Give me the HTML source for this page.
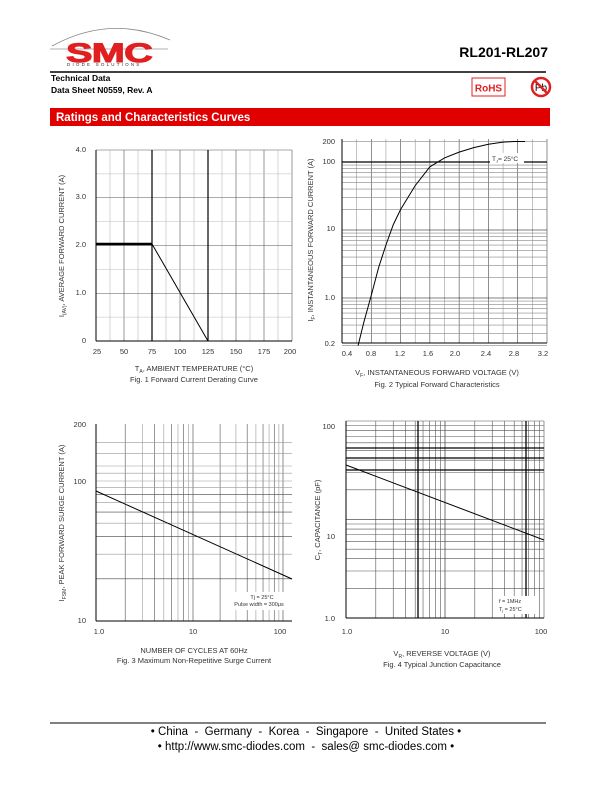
<!DOCTYPE html>
<html><head><meta charset="utf-8"><style>
body{margin:0;background:#fff;}
svg{display:block;font-family:"Liberation Sans",Arial,sans-serif;}
</style></head><body>
<svg id="s" width="612" height="792" viewBox="0 0 612 792" xmlns="http://www.w3.org/2000/svg">
<rect width="612" height="792" fill="#fff"/>
<!-- logo -->
<path d="M52 46 Q110 14 170 40" fill="none" stroke="#888" stroke-width="0.8"/>
<line x1="50" y1="49" x2="168" y2="49" stroke="#999" stroke-width="0.8"/>
<text x="66" y="62" font-size="27" font-weight="bold" fill="#e02020" stroke="#e02020" stroke-width="1" font-family="Liberation Sans,sans-serif" letter-spacing="-0.5" textLength="86" lengthAdjust="spacingAndGlyphs">SMC</text>
<text x="67" y="66" font-size="4.5" fill="#333" letter-spacing="2.2">DIODE SOLUTIONS</text>
<text x="548" y="57" font-size="14" font-weight="bold" text-anchor="end">RL201-RL207</text>
<line x1="50" y1="72" x2="546" y2="72" stroke="#000" stroke-width="1.5"/>
<text x="51" y="81" font-size="8.5" font-weight="bold">Technical Data</text>
<text x="51" y="93" font-size="8.5" font-weight="bold">Data Sheet N0559, Rev. A</text>
<rect x="472" y="78" width="33" height="18" fill="none" stroke="#e02020" stroke-width="1"/>
<text x="488.5" y="91.5" font-size="10" font-weight="bold" fill="#e02020" text-anchor="middle">RoHS</text>
<circle cx="541" cy="87" r="9" fill="none" stroke="#e02020" stroke-width="2.5"/>
<text x="541" y="91" font-size="10" text-anchor="middle">Pb</text>
<line x1="535" y1="81" x2="547" y2="93" stroke="#e02020" stroke-width="2.5"/>
<rect x="50" y="108" width="500" height="18" fill="#e00000"/>
<text x="56" y="121" font-size="11.5" font-weight="bold" fill="#fff">Ratings and Characteristics Curves</text>
<g id="g"></g>
<g font-size="7.5" fill="#333">
<text x="86" y="152" text-anchor="end">4.0</text>
<text x="86" y="199" text-anchor="end">3.0</text>
<text x="86" y="247" text-anchor="end">2.0</text>
<text x="86" y="295" text-anchor="end">1.0</text>
<text x="86" y="343" text-anchor="end">0</text>
<text x="97" y="354" text-anchor="middle">25</text><text x="124" y="354" text-anchor="middle">50</text><text x="152" y="354" text-anchor="middle">75</text><text x="180" y="354" text-anchor="middle">100</text><text x="208" y="354" text-anchor="middle">125</text><text x="236" y="354" text-anchor="middle">150</text><text x="264" y="354" text-anchor="middle">175</text><text x="290" y="354" text-anchor="middle">200</text>
<text x="194" y="371" text-anchor="middle">T<tspan font-size="5" dy="2">A</tspan><tspan dy="-2">, AMBIENT TEMPERATURE (°C)</tspan></text>
<text x="194" y="382" text-anchor="middle">Fig. 1  Forward Current Derating Curve</text>
<text transform="translate(64,246) rotate(-90)" text-anchor="middle">I<tspan font-size="5" dy="2">(AV)</tspan><tspan dy="-2">, AVERAGE FORWARD CURRENT (A)</tspan></text>
<text x="335" y="144" text-anchor="end">200</text>
<text x="335" y="164" text-anchor="end">100</text>
<text x="335" y="231" text-anchor="end">10</text>
<text x="335" y="300" text-anchor="end">1.0</text>
<text x="335" y="346" text-anchor="end">0.2</text>
<text x="347" y="356" text-anchor="middle">0.4</text><text x="371" y="356" text-anchor="middle">0.8</text><text x="400" y="356" text-anchor="middle">1.2</text><text x="428" y="356" text-anchor="middle">1.6</text><text x="455" y="356" text-anchor="middle">2.0</text><text x="486" y="356" text-anchor="middle">2.4</text><text x="514" y="356" text-anchor="middle">2.8</text><text x="543" y="356" text-anchor="middle">3.2</text>
<text x="437" y="375" text-anchor="middle">V<tspan font-size="5" dy="2">F</tspan><tspan dy="-2">, INSTANTANEOUS FORWARD VOLTAGE (V)</tspan></text>
<text x="437" y="387" text-anchor="middle">Fig. 2  Typical Forward Characteristics</text>
<text transform="translate(313,240) rotate(-90)" text-anchor="middle">I<tspan font-size="5" dy="2">F</tspan><tspan dy="-2">, INSTANTANEOUS FORWARD CURRENT (A)</tspan></text>
<rect x="490" y="153" width="34" height="10" fill="#fff"/>
<text x="492" y="161" font-size="6.5">T<tspan font-size="4" dy="1.5">J</tspan><tspan dy="-1.5">= 25°C</tspan></text>
<text x="86" y="427" text-anchor="end">200</text>
<text x="86" y="484" text-anchor="end">100</text>
<text x="86" y="623" text-anchor="end">10</text>
<text x="99" y="634" text-anchor="middle">1.0</text><text x="193" y="634" text-anchor="middle">10</text><text x="280" y="634" text-anchor="middle">100</text>
<text x="194" y="653" text-anchor="middle">NUMBER OF CYCLES AT 60Hz</text>
<text x="194" y="663" text-anchor="middle">Fig. 3  Maximum Non-Repetitive Surge Current</text>
<text transform="translate(64,523) rotate(-90)" text-anchor="middle">I<tspan font-size="5" dy="2">FSM</tspan><tspan dy="-2">, PEAK FORWARD SURGE CURRENT (A)</tspan></text>
<rect x="226" y="592" width="64" height="18" fill="#fff"/>
<text x="262" y="599" font-size="5.5" text-anchor="middle">Tj = 25°C</text>
<text x="259" y="606" font-size="5.5" text-anchor="middle">Pulse width = 300μs</text>
<text x="335" y="429" text-anchor="end">100</text>
<text x="335" y="539" text-anchor="end">10</text>
<text x="335" y="621" text-anchor="end">1.0</text>
<text x="347" y="634" text-anchor="middle">1.0</text><text x="445" y="634" text-anchor="middle">10</text><text x="541" y="634" text-anchor="middle">100</text>
<text x="442" y="656" text-anchor="middle">V<tspan font-size="5" dy="2">R</tspan><tspan dy="-2">, REVERSE VOLTAGE (V)</tspan></text>
<text x="442" y="667" text-anchor="middle">Fig. 4  Typical Junction Capacitance</text>
<text transform="translate(320,520) rotate(-90)" text-anchor="middle">C<tspan font-size="5" dy="2">T</tspan><tspan dy="-2">, CAPACITANCE (pF)</tspan></text>
<rect x="496" y="596" width="40" height="18" fill="#fff"/>
<text x="499" y="603" font-size="5.5">f =  1MHz</text>
<text x="499" y="611" font-size="5.5">T<tspan font-size="3.5" dy="1">j</tspan><tspan dy="-1"> =  25°C</tspan></text>
</g>
<line x1="50" y1="723" x2="546" y2="723" stroke="#000" stroke-width="1"/>
<text x="306" y="735" font-size="11.5" text-anchor="middle" style="white-space:pre" xml:space="preserve">• China  -  Germany  -  Korea  -  Singapore  -  United States •</text>
<text x="306" y="750" font-size="11.5" text-anchor="middle" style="white-space:pre" xml:space="preserve">• http://www.smc-diodes.com  -  sales@ smc-diodes.com •</text>
</svg>
<script>
var g=document.getElementById('g'),NS='http://www.w3.org/2000/svg';
function L(x1,y1,x2,y2,c,w){var l=document.createElementNS(NS,'line');l.setAttribute('x1',x1);l.setAttribute('y1',y1);l.setAttribute('x2',x2);l.setAttribute('y2',y2);l.setAttribute('stroke',c||'#555');l.setAttribute('stroke-width',w||0.6);g.appendChild(l);}
function P(d,w){var p=document.createElementNS(NS,'path');p.setAttribute('d',d);p.setAttribute('fill','none');p.setAttribute('stroke','#000');p.setAttribute('stroke-width',w||1);g.appendChild(p);}
var x0=96,x1=292,y0=150,y1=341;
for(var i=0;i<=14;i++){var x=x0+i*14;L(x,y0,x,y1,i%2?'#bbb':'#555');}
for(var i=0;i<=8;i++){var y=y0+i*(y1-y0)/8;L(x0,y,x1,y,i%2?'#bbb':'#555');}
L(152,y0,152,y1,'#000',1.2);L(208,y0,208,y1,'#000',1.2);
L(x0,y0,x0,y1,'#000',1);L(x0,y1,x1,y1,'#000',1);
P('M96 244 L152 244',2.5);P('M152 244 L208 341',1);
var a=342,b=547,t=139,bt=343;
function fx(v){return a+(v-0.4)/2.8*205;}function fy(I){return 298-Math.log10(I)*68;}
for(var i=0;i<=14;i++){L(a+i*205/14,t,a+i*205/14,bt,i%2?'#999':'#444');}
[0.2,0.3,0.4,0.5,0.6,0.7,0.8,0.9,1,2,3,4,5,6,7,8,9,10,20,30,40,50,60,70,80,90,100,200].forEach(function(v){L(a,fy(v),b,fy(v),(v==1||v==10||v==100)?'#000':'#888',(v==100)?1.2:0.6);});
L(a,t,a,bt,'#000',1);L(a,bt,b,bt,'#000',1);
var pts=[[0.62,0.2],[0.7,0.45],[0.8,1.1],[0.9,2.8],[1.0,6],[1.1,12],[1.2,20],[1.4,45],[1.6,85],[1.8,115],[2.0,140],[2.2,163],[2.4,182],[2.6,196],[2.75,200],[2.9,200]];
P('M'+pts.map(function(p){return fx(p[0]).toFixed(1)+' '+fy(p[1]).toFixed(1);}).join(' L'),1);
var c0=96,c1=292,r0=424,r1=621;
function gx(n){var l=Math.log10(n);return l<=1?96+l*97:193+(l-1)*90;}
function gy(v){var l=Math.log10(v);return l<=1.999?621-(l-1)*140:481-(l-2)/0.301*57;}
for(var d=1;d<=100;d*=10)for(var k=1;k<10;k++){var n=d*k;if(n>130)break;L(gx(n),r0,gx(n),r1,k==1?'#444':(k%2?'#999':'#555'));}
[20,30,40,50,60,70,80,90,100,110,120,140,160].forEach(function(v){L(c0,gy(v),c1,gy(v),v%20==0&&v<100?'#444':'#999');});
L(c0,r0,c0,r1,'#000',1);L(c0,r1,c1,r1,'#000',1);
P('M96 491 L292 579',1);
var e0=346,e1=544,f0=421,f1=618;
function hx(v){return e0+Math.log10(v)*99;}function hy(v){return f1-Math.log10(v)*98.5;}
for(var d=1;d<=10;d*=10)for(var k=1;k<=10;k++){L(hx(d*k),f0,hx(d*k),f1,'#555');L(e0,hy(d*k),e1,hy(d*k),'#555');}
L(418,f0,418,f1,'#000',1.3);L(526,f0,526,f1,'#000',1.3);
[448,458,470].forEach(function(y){L(e0,y,e1,y,'#000',1.2);});
L(e0,f0,e0,f1,'#000',1);L(e0,f1,e1,f1,'#000',1);
P('M346 465 L544 540',1);
</script>
</body></html>
